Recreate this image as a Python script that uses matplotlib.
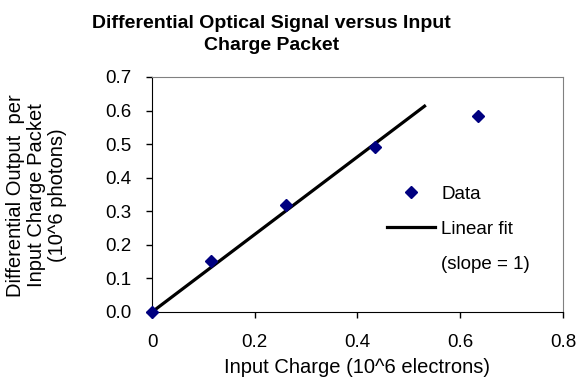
import matplotlib
matplotlib.use("Agg")
import matplotlib.pyplot as plt
from matplotlib.lines import Line2D

plt.rcParams['font.family'] = ['Liberation Sans', 'DejaVu Sans']

charge = [0.0, 0.114, 0.261, 0.434, 0.635]
signal = [0.0, 0.153, 0.318, 0.492, 0.585]
fit_x = [0.0, 0.533]
fit_y = [0.0, 0.616]
xticks = [0, 0.2, 0.4, 0.6, 0.8]
xticklabels = ['0', '0.2', '0.4', '0.6', '0.8']
yticks = [0.0, 0.1, 0.2, 0.3, 0.4, 0.5, 0.6, 0.7]

fs_tick = 13.5
fs_lab = 14.5
fig = plt.figure(figsize=(5.78, 3.83), dpi=100)
ax = fig.add_axes([0.263, 0.1854, 0.711, 0.6136])

ax.plot(fit_x, fit_y, color='black', lw=2.3, solid_capstyle='butt', zorder=2)
ax.plot(charge, signal, linestyle='none', marker='D', markersize=6.5,
        color='#000080', clip_on=False, zorder=3)

ax.set_xlim(0, 0.8)
ax.set_ylim(0, 0.7)
ax.set_xticks(xticks)
ax.set_xticklabels(xticklabels)
ax.set_yticks(yticks)
ax.set_yticklabels(['%.1f' % v for v in yticks])
ax.tick_params(axis='both', direction='out', length=4, width=1,
               labelsize=fs_tick, color='black')
ax.tick_params(axis='y', pad=11)
ax.tick_params(axis='x', pad=12)
for s in ['top', 'right']:
    ax.spines[s].set_color('#808080')
for s in ['left', 'bottom']:
    ax.spines[s].set_color('black')

ax.set_xlabel('Input Charge (10^6 electrons)', fontsize=fs_lab, labelpad=5)
fig.text(0.063, 0.49, 'Differential Output  per\nInput Charge Packet\n(10^6 photons)',
         rotation=90, ha='center', va='center', fontsize=fs_lab, linespacing=1.13)
fig.text(0.47, 0.91, 'Differential Optical Signal versus Input\nCharge Packet',
         ha='center', va='center', fontsize=14, fontweight='bold', linespacing=1.32)

handles = [Line2D([], [], linestyle='none', marker='D', markersize=6.5, color='#000080'),
           Line2D([], [], color='black', lw=2.3),
           Line2D([], [], linestyle='none')]
ax.legend(handles, ['Data', 'Linear fit', '(slope = 1)'], loc='upper left',
          bbox_to_anchor=(0.572, 0.537), frameon=False, fontsize=fs_tick,
          handlelength=2.55, handletextpad=0.35, labelspacing=0.95,
          borderpad=0, borderaxespad=0)

fig.savefig('out.png', dpi=100)
